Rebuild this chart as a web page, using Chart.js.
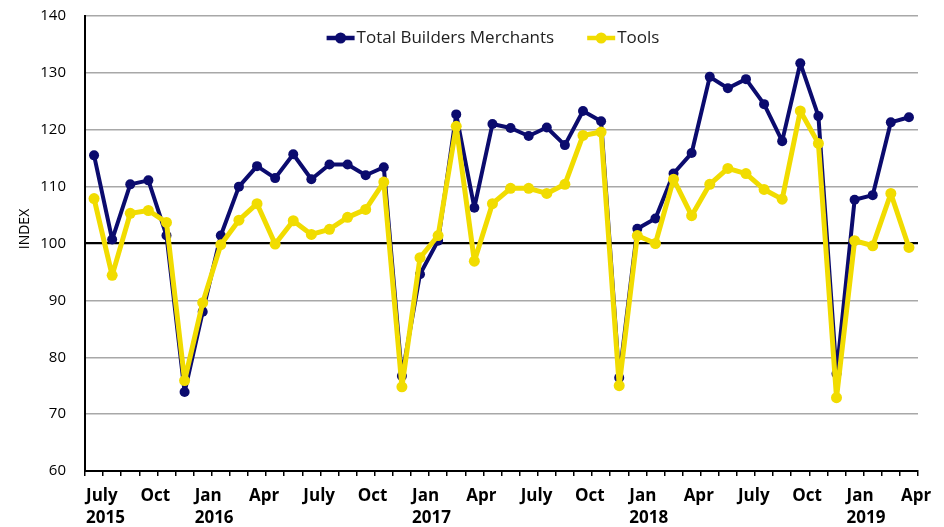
<!DOCTYPE html>
<html><head><meta charset="utf-8">
<script src="https://cdn.jsdelivr.net/npm/chart.js@4/dist/chart.umd.min.js"></script>
<style>html,body{margin:0;padding:0;background:#fff}#wrap{width:944px;height:527px;position:relative}</style>
</head><body><div id="wrap"><canvas id="c" width="944" height="527"></canvas></div>
<script>
const months = [
  'Jul 2015','Aug 2015','Sep 2015','Oct 2015','Nov 2015','Dec 2015',
  'Jan 2016','Feb 2016','Mar 2016','Apr 2016','May 2016','Jun 2016',
  'Jul 2016','Aug 2016','Sep 2016','Oct 2016','Nov 2016','Dec 2016',
  'Jan 2017','Feb 2017','Mar 2017','Apr 2017','May 2017','Jun 2017',
  'Jul 2017','Aug 2017','Sep 2017','Oct 2017','Nov 2017','Dec 2017',
  'Jan 2018','Feb 2018','Mar 2018','Apr 2018','May 2018','Jun 2018',
  'Jul 2018','Aug 2018','Sep 2018','Oct 2018','Nov 2018','Dec 2018',
  'Jan 2019','Feb 2019','Mar 2019','Apr 2019'
];
const tickLabels = [
  ['July','2015'],'','','Oct','','',
  ['Jan','2016'],'','','Apr','','',
  'July','','','Oct','','',
  ['Jan','2017'],'','','Apr','','',
  'July','','','Oct','','',
  ['Jan','2018'],'','','Apr','','',
  'July','','','Oct','','',
  ['Jan','2019'],'','','Apr'
];
const totalBuildersMerchants = [
  115.5,100.7,110.4,111.1,101.4,73.9,
  88.0,101.4,110.0,113.6,111.5,115.7,
  111.3,113.9,113.9,112.0,113.4,76.7,
  94.6,100.5,122.7,106.3,121.0,120.3,
  118.9,120.4,117.3,123.3,121.5,76.4,
  102.6,104.4,112.3,115.9,129.3,127.3,
  128.9,124.5,118.0,131.7,122.4,77.1,
  107.7,108.5,121.3,122.2
];
const tools = [
  107.9,94.4,105.3,105.8,103.7,75.9,
  89.6,99.8,104.1,107.0,99.9,104.0,
  101.6,102.5,104.6,106.0,110.8,74.8,
  97.5,101.4,120.6,96.9,107.0,109.7,
  109.7,108.8,110.4,119.0,119.6,75.0,
  101.4,100.0,111.3,104.9,110.4,113.2,
  112.3,109.5,107.8,123.3,117.6,72.9,
  100.5,99.6,108.8,99.3
];
const yTicks = [60,70,80,90,100,110,120,130,140];
const seriesNames = ['Total Builders Merchants','Tools'];

const NAVY = '#0b0b6e';
const YELLOW = '#f1dc00';
const FAMILY = "'Open Sans', sans-serif";

const inlineLegend = {
  id: 'inlineLegend',
  afterDraw(chart) {
    const ctx = chart.ctx;
    ctx.save();
    ctx.font = '17px ' + FAMILY;
    const items = [
      {text: seriesNames[0], color: NAVY},
      {text: seriesNames[1], color: YELLOW}
    ];
    const lineLen = 28, gapText = 2, gapItem = 33;
    let total = 0;
    items.forEach((it, i) => {
      it.w = ctx.measureText(it.text).width;
      total += lineLen + gapText + it.w + (i ? 0 : gapItem);
    });
    let x = 493 - total / 2;
    const y = 38;
    items.forEach(it => {
      ctx.strokeStyle = it.color;
      ctx.lineWidth = 4.5;
      ctx.beginPath();
      ctx.moveTo(x, y); ctx.lineTo(x + lineLen, y);
      ctx.stroke();
      ctx.fillStyle = it.color;
      ctx.beginPath();
      ctx.arc(x + lineLen / 2, y, 5.5, 0, Math.PI * 2);
      ctx.fill();
      ctx.fillStyle = '#222';
      ctx.textAlign = 'left';
      ctx.textBaseline = 'middle';
      ctx.fillText(it.text, x + lineLen + gapText, y);
      x += lineLen + gapText + it.w + gapItem;
    });
    ctx.restore();
  }
};

const indexTitle = {
  id: 'indexTitle',
  afterDraw(chart) {
    const ctx = chart.ctx;
    ctx.save();
    ctx.translate(25, 229);
    ctx.rotate(-Math.PI / 2);
    ctx.font = '14px ' + FAMILY;
    ctx.fillStyle = '#000';
    ctx.textAlign = 'center';
    ctx.textBaseline = 'middle';
    ctx.fillText('INDEX', 0, 0);
    ctx.restore();
  }
};

new Chart(document.getElementById('c'), {
  type: 'line',
  data: {
    labels: months,
    datasets: [
      {
        label: seriesNames[1], data: tools,
        borderColor: YELLOW, backgroundColor: YELLOW,
        pointBackgroundColor: YELLOW, pointBorderWidth: 0,
        borderWidth: 5, pointRadius: 5.5, tension: 0,
        borderJoinStyle: 'round', borderCapStyle: 'round'
      },
      {
        label: seriesNames[0], data: totalBuildersMerchants,
        borderColor: NAVY, backgroundColor: NAVY,
        pointBackgroundColor: NAVY, pointBorderWidth: 0,
        borderWidth: 4, pointRadius: 5, tension: 0,
        borderJoinStyle: 'round', borderCapStyle: 'round'
      }
    ]
  },
  options: {
    responsive: false,
    animation: false,
    devicePixelRatio: 1,
    layout: {padding: {top: 16, right: 26, left: 0, bottom: 0}},
    plugins: {legend: {display: false}, tooltip: {enabled: false}},
    scales: {
      x: {
        type: 'category',
        offset: true,
        grid: {offset: true, drawOnChartArea: false, drawTicks: true, tickLength: 5, color: '#000', lineWidth: 1.5},
        border: {display: true, color: '#000', width: 2},
        ticks: {
          autoSkip: false, maxRotation: 0, minRotation: 0,
          align: 'start', labelOffset: -8, padding: 9, color: '#000',
          font: {family: FAMILY, size: 17, weight: 'bold', lineHeight: 1.3},
          callback: (v, i) => tickLabels[i]
        },
        afterFit(s) { s.height = 56; s.paddingTop = 0; s.paddingBottom = 0; s.paddingLeft = 0; s.paddingRight = 0; }
      },
      y: {
        min: 60, max: 140,
        afterBuildTicks(s) { s.ticks = yTicks.map(v => ({value: v})); },
        ticks: {padding: 19, color: '#000', font: {family: FAMILY, size: 15}},
        grid: {
          drawTicks: false,
          color: c => (c.tick && c.tick.value === 100) ? '#000' : '#a8a8a8',
          lineWidth: c => (c.tick && c.tick.value === 100) ? 2.2 : 1.5
        },
        border: {display: true, color: '#000', width: 2},
        afterFit(s) { s.width = 85; s.paddingTop = 0; s.paddingBottom = 0; }
      }
    }
  },
  plugins: [inlineLegend, indexTitle]
});
</script>
</body></html>
